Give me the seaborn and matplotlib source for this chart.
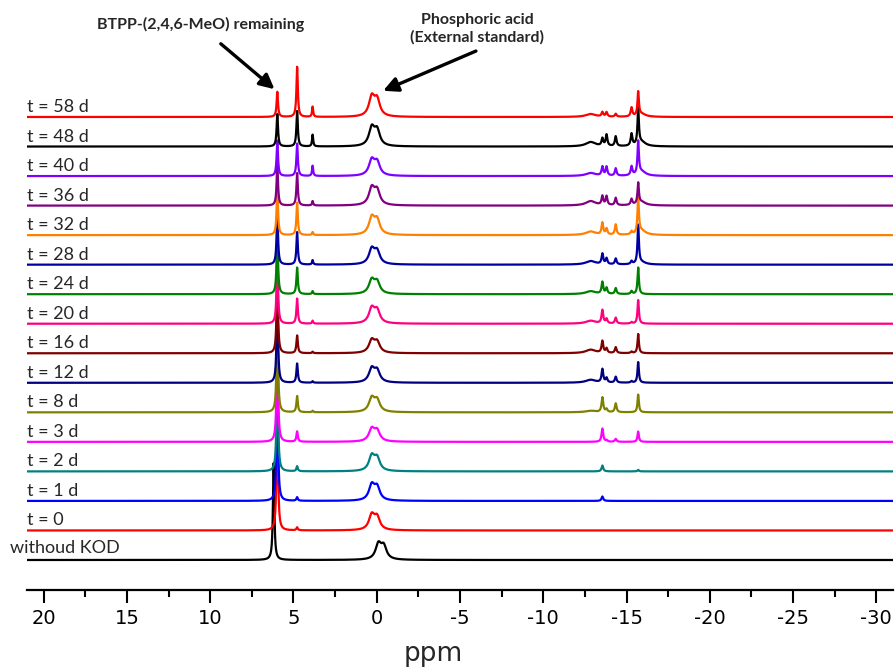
import numpy as np
import pandas as pd
import matplotlib.pyplot as plt
import seaborn as sns
from matplotlib.ticker import MultipleLocator

# Traces from bottom to top (each trace is shifted up by one unit)
labels = ['withoud KOD', 't = 0', 't = 1 d', 't = 2 d', 't = 3 d', 't = 8 d',
          't = 12 d', 't = 16 d', 't = 20 d', 't = 24 d', 't = 28 d',
          't = 32 d', 't = 36 d', 't = 40 d', 't = 48 d', 't = 58 d']
colors = ['#000000', '#ff0000', '#0000ff', '#008080', '#ff00ff', '#808000',
          '#000080', '#800000', '#ff0080', '#008000', '#0000a0',
          '#ff8000', '#800080', '#8000ff', '#000000', '#ff0000']

# BTPP-(2,4,6-MeO) peak (~6 ppm)
btpp_ppm = [6.19, 5.97, 5.97, 5.97, 5.97, 5.97, 5.97, 5.97, 5.97, 5.97, 5.97, 5.97, 5.97, 5.97, 5.97, 5.97]
btpp_h = [3.3, 4.4, 4.4, 4.0, 3.8, 3.4, 3.0, 2.7, 2.4, 2.1, 1.8, 1.6, 1.4, 1.2, 1.1, 0.85]
# product peaks near 4.8 and 3.85 ppm
p48_h = [0, 0.1, 0.12, 0.17, 0.35, 0.55, 0.65, 0.6, 0.85, 0.9, 1.1, 1.1, 1.1, 1.1, 1.2, 1.7]
p38_h = [0, 0, 0, 0, 0, 0.05, 0.05, 0.05, 0.1, 0.1, 0.15, 0.1, 0.15, 0.35, 0.4, 0.35]
# phosphoric acid external standard (~0 ppm)
h3po4_ppm = [-0.2, 0.2, 0.2, 0.2, 0.2, 0.2, 0.2, 0.2, 0.2, 0.2, 0.2, 0.2, 0.2, 0.2, 0.2, 0.2]
h3po4_h = [0.62, 0.6, 0.62, 0.6, 0.5, 0.55, 0.55, 0.5, 0.6, 0.55, 0.6, 0.68, 0.68, 0.62, 0.73, 0.78]
# peaks in the -13 .. -16 ppm region
r128_h = [0, 0, 0, 0, 0, 0.05, 0.1, 0.12, 0.1, 0.1, 0.12, 0.12, 0.15, 0.1, 0.15, 0.1]
r135_h = [0, 0, 0.15, 0.2, 0.45, 0.5, 0.45, 0.4, 0.45, 0.4, 0.35, 0.4, 0.3, 0.3, 0.25, 0.15]
r138_h = [0, 0, 0, 0, 0.05, 0.1, 0.15, 0.15, 0.15, 0.2, 0.2, 0.2, 0.3, 0.3, 0.38, 0.15]
r143_h = [0, 0, 0, 0, 0.1, 0.3, 0.2, 0.2, 0.2, 0.2, 0.2, 0.35, 0.25, 0.25, 0.33, 0.1]
r153_h = [0, 0, 0, 0, 0, 0, 0.05, 0.05, 0.05, 0.1, 0.1, 0.1, 0.2, 0.3, 0.4, 0.3]
r157_h = [0, 0, 0, 0.05, 0.35, 0.6, 0.7, 0.65, 0.8, 0.9, 1.3, 1.2, 0.7, 1.1, 1.2, 0.8]
r159_h = [0, 0, 0, 0, 0, 0, 0, 0, 0, 0, 0.08, 0.15, 0.12, 0.15, 0.15, 0.1]


def lorentz(x, c, h, hw):
    return h / (1 + ((x - c) / hw) ** 2)


# Build the stacked spectra from the peak table
ppm = np.linspace(21, -31, 6000)
frames = []
for i, lab in enumerate(labels):
    y = np.full_like(ppm, float(i))
    y += lorentz(ppm, btpp_ppm[i], btpp_h[i], 0.05)
    y += lorentz(ppm, 4.78, p48_h[i], 0.05)
    y += lorentz(ppm, 3.85, p38_h[i], 0.04)
    y += 0.82 * lorentz(ppm, h3po4_ppm[i] + 0.1, h3po4_h[i], 0.2)
    y += 0.70 * lorentz(ppm, h3po4_ppm[i] - 0.22, h3po4_h[i], 0.2)
    y += lorentz(ppm, -12.85, r128_h[i], 0.35)
    y += lorentz(ppm, -13.55, r135_h[i], 0.06)
    y += lorentz(ppm, -13.8, r138_h[i], 0.06)
    y += lorentz(ppm, -14.35, r143_h[i], 0.06)
    y += lorentz(ppm, -15.3, r153_h[i], 0.06)
    y += lorentz(ppm, -15.7, r157_h[i], 0.05)
    y += lorentz(ppm, -15.9, r159_h[i], 0.3)
    frames.append(pd.DataFrame({'ppm': ppm, 'signal': y, 'trace': lab}))
df = pd.concat(frames, ignore_index=True)

sns.set_style('white')
plt.rcParams['font.family'] = ['DejaVu Sans']
plt.rcParams['axes.unicode_minus'] = False

fig = plt.figure(figsize=(8.96, 6.72), dpi=100)
ax = fig.add_axes([27 / 896, 1 - 590 / 672, 866 / 896, 530 / 672])
sns.lineplot(data=df, x='ppm', y='signal', hue='trace', hue_order=labels,
             palette=dict(zip(labels, colors)), estimator=None, sort=False,
             legend=False, linewidth=1.6, ax=ax)

ax.set_xlim(21, -31)
ax.set_ylim(-1.016, 16.93)
ax.set_xlabel('')
ax.set_ylabel('')
ax.set_yticks([])
for side in ['left', 'top', 'right']:
    ax.spines[side].set_visible(False)
ax.spines['bottom'].set_linewidth(1.6)
ax.spines['bottom'].set_color('black')
ax.set_xticks(np.arange(20, -31, -5))
ax.xaxis.set_minor_locator(MultipleLocator(2.5))
ax.tick_params(axis='x', which='major', direction='out', length=9, width=1.5,
               labelsize=14, pad=5, bottom=True, colors='black')
ax.tick_params(axis='x', which='minor', direction='out', length=5, width=1.5,
               bottom=True, colors='black')

fig.text(433 / 896, 1 - 661 / 672, 'ppm', fontsize=19, ha='center', va='baseline')

# trace labels
for i, lab in enumerate(labels):
    x0 = 22.0 if lab.startswith('withoud') else 21.0
    dy = 0.24 if lab.startswith('withoud') else 0.17
    ax.text(x0, i + dy, lab, ha='left', va='baseline', fontsize=13,
            family='Lato', clip_on=False)

# annotations
ax.text(10.58, 18.12, 'BTPP-(2,4,6-MeO) remaining', ha='center', va='center',
        fontsize=11.5, fontweight='bold', family='Lato', clip_on=False)
ax.text(-6.05, 17.98, 'Phosphoric acid\n(External standard)', ha='center',
        va='center', fontsize=11.5, fontweight='bold', family='Lato',
        linespacing=1.3, clip_on=False)
arrow = dict(arrowstyle='-|>', color='black', lw=2.4, mutation_scale=22)
ax.annotate('', xy=(6.01, 15.88), xytext=(9.49, 17.54), arrowprops=arrow,
            annotation_clip=False)
ax.annotate('', xy=(-0.23, 15.85), xytext=(-6.11, 17.27), arrowprops=arrow,
            annotation_clip=False)

plt.savefig('out.png', dpi=100)
